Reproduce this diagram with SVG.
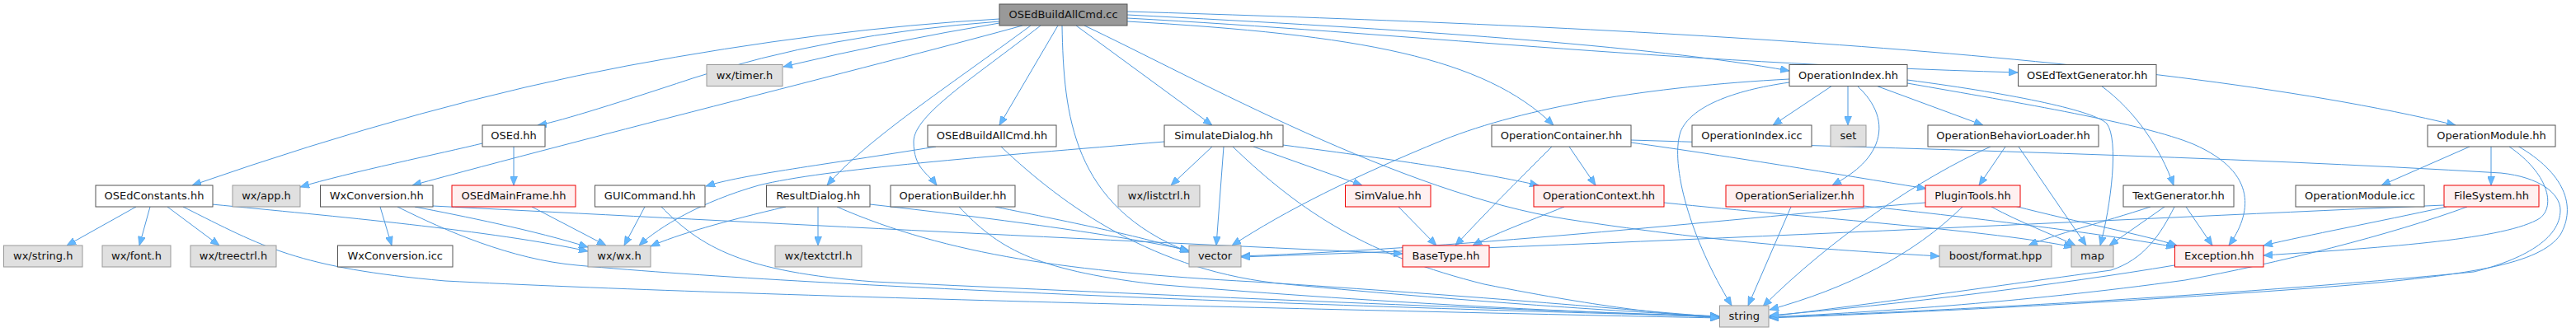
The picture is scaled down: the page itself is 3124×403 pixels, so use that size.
<svg xmlns="http://www.w3.org/2000/svg" width="3124" height="403" viewBox="0 0 3124 403">
<style>
.nd rect{stroke-width:1}
.w rect{fill:#ffffff;stroke:#555555}
.x rect{fill:#e0e0e0;stroke:#999999}
.r rect{fill:#fff0f0;stroke:#ee0000}
.root rect{fill:#999999;stroke:#555555}
.nd text{font-family:"DejaVu Sans","Liberation Sans",sans-serif;font-size:13px;text-anchor:middle;fill:#111111}
#edges path{fill:none;stroke:#4d98de;stroke-width:1;marker-end:url(#ah)}
</style>
<defs>
<marker id="ah" viewBox="0 0 11 9" refX="11" refY="4.5" markerWidth="11" markerHeight="9" markerUnits="userSpaceOnUse" orient="auto">
<path d="M0,0 L11,4.5 L0,9 Z" fill="#63b8ff" stroke="#4d98de" stroke-width="0.6"/>
</marker>
</defs>
<rect x="0" y="0" width="3124" height="403" fill="#ffffff"/>
<g id="edges">
<path d="M1212,23 Q1000,35 760,80 T233,225"/>
<path d="M1212,26 Q1000,42 840,95 T652,152"/>
<path d="M1212,28 Q1080,50 950,81"/>
<path d="M1240,31 C1100,70 700,170 500,225"/>
<path d="M1250,31 C1150,105 1050,170 1003,225"/>
<path d="M1262,31 C1180,95 1108,140 1108,172 S1125,210 1136,225"/>
<path d="M1283,31 L1212,152"/>
<path d="M1288,31 C1290,140 1300,250 1442,306"/>
<path d="M1305,31 L1470,152"/>
<path d="M1315,31 C1450,95 1700,235 1900,266 S2250,305 2352,311"/>
<path d="M1367,26 C1650,42 1800,70 1884,152"/>
<path d="M1367,14 C1900,30 2600,60 2978,152"/>
<path d="M1367,18 C1700,35 2000,55 2170,86"/>
<path d="M1367,22 C1700,40 2000,75 2447,88"/>
<path d="M585,174 C540,185 420,210 364,227"/>
<path d="M623,178 L623,225"/>
<path d="M165,251 L81,298"/>
<path d="M182,251 L169,298"/>
<path d="M203,251 L266,298"/>
<path d="M257,248 C400,262 600,280 713,305"/>
<path d="M222,251 C320,300 360,325 540,341 C900,360 1700,378 2085,386"/>
<path d="M461,251 L475,298"/>
<path d="M503,251 C560,262 650,280 713,300"/>
<path d="M482,251 C540,280 620,315 700,322 C1000,350 1700,375 2085,384"/>
<path d="M525,250 C800,264 1300,290 1701,308"/>
<path d="M645,251 L735,298"/>
<path d="M782,251 L757,298"/>
<path d="M802,251 C850,300 900,330 1060,342 C1400,358 1800,375 2085,384"/>
<path d="M953,251 C880,268 820,285 789,299"/>
<path d="M992,251 L992,298"/>
<path d="M1015,251 C1150,310 1300,330 1520,342 C1800,360 2000,378 2085,385"/>
<path d="M1055,248 C1250,270 1380,290 1442,304"/>
<path d="M1207,251 C1300,270 1400,290 1442,306"/>
<path d="M1163,251 C1210,300 1250,327 1400,345 C1700,370 1950,380 2085,385"/>
<path d="M1135,178 C1000,200 900,212 856,226"/>
<path d="M1214,178 C1290,250 1400,330 1560,345 C1800,368 2000,380 2085,384"/>
<path d="M1412,172 C1200,190 1000,205 920,225 C850,245 800,275 775,298"/>
<path d="M1470,178 L1420,225"/>
<path d="M1484,178 L1475,298"/>
<path d="M1495,178 C1580,260 1660,310 1800,345 C1950,375 2030,382 2085,386"/>
<path d="M1520,178 L1652,225"/>
<path d="M1556,176 C1700,195 1800,210 1866,225"/>
<path d="M1882,178 C1840,220 1800,260 1765,298"/>
<path d="M1903,178 L1935,225"/>
<path d="M1978,173 C2100,190 2250,215 2336,229"/>
<path d="M1978,170 C2300,180 2700,190 3033,210 C3080,215 3105,235 3105,255 C3105,290 3060,315 3000,330 C2700,360 2300,380 2145,385"/>
<path d="M1897,251 C1850,270 1810,285 1786,298"/>
<path d="M2018,246 C2200,265 2420,280 2514,300"/>
<path d="M2172,251 L2120,371"/>
<path d="M2260,250 C2400,265 2560,285 2638,300"/>
<path d="M2380,251 C2320,310 2240,350 2146,376"/>
<path d="M2335,246 C2100,265 1800,300 1505,311"/>
<path d="M2415,251 C2450,270 2490,285 2517,298"/>
<path d="M2443,250 C2520,270 2600,285 2640,298"/>
<path d="M2432,178 L2400,225"/>
<path d="M2448,178 L2530,298"/>
<path d="M2414,178 C2330,215 2220,290 2138,372"/>
<path d="M2222,104 L2150,152"/>
<path d="M2241,104 L2241,152"/>
<path d="M2252,104 C2275,125 2285,150 2275,175 C2265,200 2240,215 2222,225"/>
<path d="M2275,104 L2405,152"/>
<path d="M2313,97 C2450,115 2540,135 2555,150 C2570,170 2560,250 2547,298"/>
<path d="M2313,101 C2450,125 2600,150 2660,175 C2740,210 2730,260 2703,298"/>
<path d="M2170,96 C2000,105 1850,130 1750,170 C1640,215 1560,255 1494,298"/>
<path d="M2170,100 C2100,110 2050,130 2038,160 C2025,200 2050,290 2100,371"/>
<path d="M2548,104 C2590,135 2620,180 2636,225"/>
<path d="M2608,251 C2550,270 2490,285 2460,298"/>
<path d="M2625,251 L2558,298"/>
<path d="M2637,251 C2620,285 2600,315 2560,328 C2400,350 2250,372 2146,384"/>
<path d="M2651,251 L2683,298"/>
<path d="M2995,178 L2888,225"/>
<path d="M3021,178 L3021,225"/>
<path d="M3043,178 C3090,210 3100,250 3080,265 C3040,290 2900,300 2745,310"/>
<path d="M3053,177 C3110,210 3125,250 3105,285 C3080,320 3000,335 2800,350 C2500,372 2250,382 2146,386"/>
<path d="M2964,249 C2600,265 2000,295 1505,312"/>
<path d="M2967,251 C2880,270 2800,285 2745,298"/>
<path d="M2992,251 C2900,285 2760,320 2650,340 C2450,368 2250,380 2146,385"/>
<path d="M2637,322 C2500,345 2300,370 2146,383"/>
<path d="M1696,251 L1742,298"/>
</g>
<g id="node-root" class="nd root"><rect x="1212" y="5" width="155" height="26"/><text x="1289.5" y="22">OSEdBuildAllCmd.cc</text></g>
<g id="node-wx-timer" class="nd x"><rect x="857" y="78.5" width="92" height="26"/><text x="903" y="95.5">wx/timer.h</text></g>
<g id="node-OperationIndex-hh" class="nd w"><rect x="2170" y="78.5" width="143" height="26"/><text x="2241.5" y="95.5">OperationIndex.hh</text></g>
<g id="node-OSEdTextGenerator-hh" class="nd w"><rect x="2447.5" y="78.5" width="167.5" height="26"/><text x="2531.25" y="95.5">OSEdTextGenerator.hh</text></g>
<g id="node-OSEd-hh" class="nd w"><rect x="585" y="152" width="76" height="26"/><text x="623" y="169">OSEd.hh</text></g>
<g id="node-OSEdBuildAllCmd-hh" class="nd w"><rect x="1125" y="152" width="156" height="26"/><text x="1203" y="169">OSEdBuildAllCmd.hh</text></g>
<g id="node-SimulateDialog-hh" class="nd w"><rect x="1412" y="152" width="144" height="26"/><text x="1484" y="169">SimulateDialog.hh</text></g>
<g id="node-OperationContainer-hh" class="nd w"><rect x="1809" y="152" width="169" height="26"/><text x="1893.5" y="169">OperationContainer.hh</text></g>
<g id="node-OperationIndex-icc" class="nd w"><rect x="2052" y="152" width="145" height="26"/><text x="2124.5" y="169">OperationIndex.icc</text></g>
<g id="node-set" class="nd x"><rect x="2220" y="152" width="43" height="26"/><text x="2241.5" y="169">set</text></g>
<g id="node-OperationBehaviorLoader-hh" class="nd w"><rect x="2338" y="152" width="207" height="26"/><text x="2441.5" y="169">OperationBehaviorLoader.hh</text></g>
<g id="node-OperationModule-hh" class="nd w"><rect x="2944" y="152" width="155" height="26"/><text x="3021.5" y="169">OperationModule.hh</text></g>
<g id="node-OSEdConstants-hh" class="nd w"><rect x="116" y="225" width="142" height="26"/><text x="187" y="242">OSEdConstants.hh</text></g>
<g id="node-wx-app" class="nd x"><rect x="282" y="225" width="82" height="26"/><text x="323" y="242">wx/app.h</text></g>
<g id="node-WxConversion-hh" class="nd w"><rect x="388.5" y="225" width="136.5" height="26"/><text x="456.75" y="242">WxConversion.hh</text></g>
<g id="node-OSEdMainFrame-hh" class="nd r"><rect x="548" y="225" width="150" height="26"/><text x="623" y="242">OSEdMainFrame.hh</text></g>
<g id="node-GUICommand-hh" class="nd w"><rect x="721.5" y="225" width="133.5" height="26"/><text x="788.25" y="242">GUICommand.hh</text></g>
<g id="node-ResultDialog-hh" class="nd w"><rect x="929.5" y="225" width="125.5" height="26"/><text x="992.25" y="242">ResultDialog.hh</text></g>
<g id="node-OperationBuilder-hh" class="nd w"><rect x="1080" y="225" width="151" height="26"/><text x="1155.5" y="242">OperationBuilder.hh</text></g>
<g id="node-wx-listctrl" class="nd x"><rect x="1356" y="225" width="99" height="26"/><text x="1405.5" y="242">wx/listctrl.h</text></g>
<g id="node-SimValue-hh" class="nd r"><rect x="1631.5" y="225" width="103.5" height="26"/><text x="1683.25" y="242">SimValue.hh</text></g>
<g id="node-OperationContext-hh" class="nd r"><rect x="1860" y="225" width="158" height="26"/><text x="1939" y="242">OperationContext.hh</text></g>
<g id="node-OperationSerializer-hh" class="nd r"><rect x="2093" y="225" width="167" height="26"/><text x="2176.5" y="242">OperationSerializer.hh</text></g>
<g id="node-PluginTools-hh" class="nd r"><rect x="2335" y="225" width="115" height="26"/><text x="2392.5" y="242">PluginTools.hh</text></g>
<g id="node-TextGenerator-hh" class="nd w"><rect x="2575" y="225" width="134" height="26"/><text x="2642" y="242">TextGenerator.hh</text></g>
<g id="node-OperationModule-icc" class="nd w"><rect x="2784" y="225" width="156" height="26"/><text x="2862" y="242">OperationModule.icc</text></g>
<g id="node-FileSystem-hh" class="nd r"><rect x="2964" y="225" width="115" height="26"/><text x="3021.5" y="242">FileSystem.hh</text></g>
<g id="node-wx-string" class="nd x"><rect x="4.5" y="298" width="95.5" height="26"/><text x="52.25" y="315">wx/string.h</text></g>
<g id="node-wx-font" class="nd x"><rect x="124" y="298" width="83" height="26"/><text x="165.5" y="315">wx/font.h</text></g>
<g id="node-wx-treectrl" class="nd x"><rect x="231" y="298" width="104" height="26"/><text x="283" y="315">wx/treectrl.h</text></g>
<g id="node-WxConversion-icc" class="nd w"><rect x="409.5" y="298" width="139.5" height="26"/><text x="479.25" y="315">WxConversion.icc</text></g>
<g id="node-wx-wx" class="nd x"><rect x="713" y="298" width="76" height="26"/><text x="751" y="315">wx/wx.h</text></g>
<g id="node-wx-textctrl" class="nd x"><rect x="940" y="298" width="105" height="26"/><text x="992.5" y="315">wx/textctrl.h</text></g>
<g id="node-vector" class="nd x"><rect x="1442" y="298" width="63" height="26"/><text x="1473.5" y="315">vector</text></g>
<g id="node-BaseType-hh" class="nd r"><rect x="1701" y="298" width="105" height="26"/><text x="1753.5" y="315">BaseType.hh</text></g>
<g id="node-boost-format" class="nd x"><rect x="2352" y="298" width="136" height="26"/><text x="2420" y="315">boost/format.hpp</text></g>
<g id="node-map" class="nd x"><rect x="2512" y="298" width="51" height="26"/><text x="2537.5" y="315">map</text></g>
<g id="node-Exception-hh" class="nd r"><rect x="2637.5" y="298" width="107.5" height="26"/><text x="2691.25" y="315">Exception.hh</text></g>
<g id="node-string" class="nd x"><rect x="2085.5" y="371" width="59.5" height="26"/><text x="2115.25" y="388">string</text></g>
</svg>
